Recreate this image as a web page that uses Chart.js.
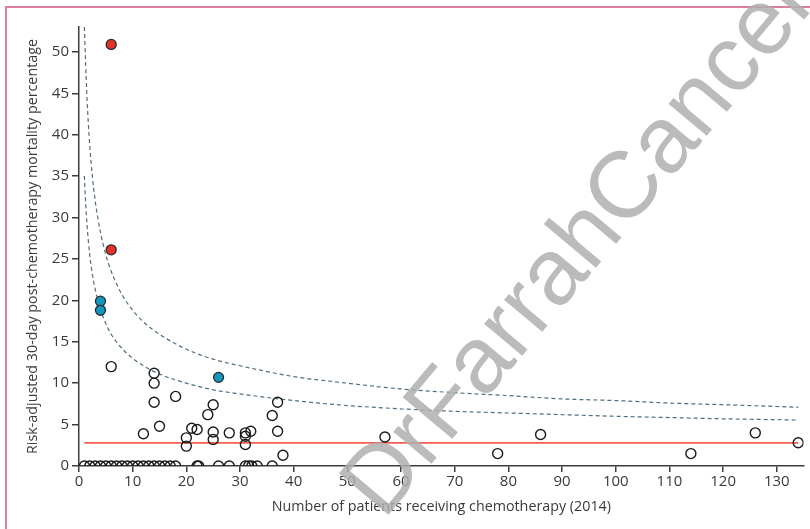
<!DOCTYPE html>
<html>
<head>
<meta charset="utf-8">
<script src="https://cdn.jsdelivr.net/npm/chart.js@4/dist/chart.umd.min.js"></script>
<style>
  html, body { margin: 0; padding: 0; background: #fff; }
  #wrap { width: 810px; height: 529px; }
</style>
</head>
<body>
<div id="wrap"><canvas id="myChart" width="810" height="529"></canvas></div>
<script>
// open circles: hospitals within limits
const openX = [1, 2, 3, 4, 5, 6, 7, 8, 9, 10, 11, 12, 13, 14, 15, 16, 17, 18,
    22, 22.3, 26, 28, 31, 31.6, 32.2, 33.2, 36,
    6, 14, 14, 14, 18, 12, 15, 20, 20, 21, 22, 24, 25, 25, 25, 28,
    31, 31, 31, 32, 36, 37, 37, 38, 57, 78, 86, 114, 126, 134];
const openY = [0, 0, 0, 0, 0, 0, 0, 0, 0, 0, 0, 0, 0, 0, 0, 0, 0, 0,
    0, 0, 0, 0, 0, 0, 0, 0, 0,
    12.0, 11.2, 10.0, 7.7, 8.4, 3.9, 4.8, 3.4, 2.4, 4.55, 4.4, 6.2, 7.4, 4.1, 3.2, 4.0,
    4.0, 3.6, 2.6, 4.2, 6.1, 7.7, 4.2, 1.3, 3.5, 1.5, 3.8, 1.5, 4.0, 2.8];

// above outer limit
const redX = [6, 6];
const redY = [50.9, 26.1];

// between inner and outer limit
const blueX = [4, 4, 26];
const blueY = [19.9, 18.8, 10.7];

// funnel limits
const limitX = [1, 1.2, 1.5, 2, 2.5, 3, 4, 5, 6, 8, 10, 12, 15, 20, 25, 30, 40, 50, 60, 70, 80, 90, 100, 110, 120, 134];
const outerY = [53, 49.2, 44.3, 38.7, 34.9, 32.1, 28.2, 25.5, 23.5, 20.7, 18.8, 17.4, 15.9, 14.1, 12.9, 12.1, 10.8, 10.0, 9.3, 8.85, 8.5, 8.1, 7.9, 7.6, 7.4, 7.1];
const innerY = [35.0, 32.2, 29.1, 25.5, 23.1, 21.4, 18.9, 17.2, 15.9, 14.2, 13.0, 12.1, 11.1, 10.0, 9.2, 8.7, 7.9, 7.3, 6.9, 6.6, 6.4, 6.2, 6.0, 5.85, 5.7, 5.55];

// overall mean
const meanX = [1, 134];
const meanY = [2.78, 2.78];

const xTitle = 'Number of patients receiving chemotherapy (2014)';
const yTitle = 'Risk-adjusted 30-day post-chemotherapy mortality percentage';

const pts = (xs, ys) => xs.map((x, i) => ({ x: x, y: ys[i] }));

const frame = {
    id: 'frame',
    beforeDraw(chart) {
        const c = chart.ctx;
        c.save();
        c.fillStyle = '#fff';
        c.fillRect(0, 0, chart.width, chart.height);
        c.strokeStyle = '#d9819c';
        c.lineWidth = 2;
        c.strokeRect(6, 7, 900, 600);
        c.restore();
    },
    afterDraw(chart) {
        // watermark
        const c = chart.ctx;
        c.save();
        c.translate(582, 244);
        c.rotate(-50 * Math.PI / 180);
        c.font = '94px "Liberation Sans", Arial, sans-serif';
        c.fillStyle = 'rgba(175,175,175,0.85)';
        c.textAlign = 'center';
        c.textBaseline = 'middle';
        c.fillText('DrFarrahCancer', 0, 0);
        c.restore();
    }
};

const myChart = document.getElementById('myChart').getContext('2d');
const axisCol = '#3d3d3d';
const tickFont = { family: '"Open Sans", sans-serif', size: 15 };
const titleFont = { family: '"Open Sans", sans-serif', size: 14.3 };

new Chart(myChart, {
    type: 'scatter',
    data: {
        datasets: [
            {
                data: pts(redX, redY),
                pointRadius: 5, pointBorderWidth: 1.3,
                backgroundColor: '#e8302a', borderColor: '#2a2a2a'
            },
            {
                data: pts(blueX, blueY),
                pointRadius: 5, pointBorderWidth: 1.3,
                backgroundColor: '#1297c0', borderColor: '#2a2a2a'
            },
            {
                data: pts(openX, openY),
                pointRadius: 5, pointBorderWidth: 1.4,
                backgroundColor: 'rgba(0,0,0,0)', borderColor: '#1a1a1a'
            },
            {
                data: pts(meanX, meanY),
                showLine: true, pointRadius: 0,
                borderColor: '#f0604f', borderWidth: 1.8
            },
            {
                data: pts(limitX, innerY),
                showLine: true, pointRadius: 0, cubicInterpolationMode: 'monotone',
                borderColor: '#4f6f7f', borderWidth: 1.2, borderDash: [4, 3]
            },
            {
                data: pts(limitX, outerY),
                showLine: true, pointRadius: 0, cubicInterpolationMode: 'monotone',
                borderColor: '#4f6f7f', borderWidth: 1.2, borderDash: [4, 3]
            }
        ]
    },
    options: {
        responsive: false,
        animation: false,
        events: [],
        layout: { padding: { left: 0, right: 6, top: 27, bottom: 0 } },
        plugins: { legend: { display: false }, tooltip: { enabled: false } },
        scales: {
            x: {
                type: 'linear', min: 0, max: 135,
                afterFit: s => { s.height = 63; },
                border: { color: axisCol, width: 1.5 },
                grid: { drawOnChartArea: false, drawTicks: true, tickLength: 6, color: axisCol, lineWidth: 1.5 },
                ticks: { stepSize: 10, includeBounds: false, color: '#3a3a3a', font: tickFont, padding: 1, maxRotation: 0 },
                title: { display: true, text: xTitle, color: '#3a3a3a', font: titleFont, padding: { top: 0, bottom: 13 } }
            },
            y: {
                type: 'linear', min: 0, max: 53,
                afterFit: s => { s.width = 79; },
                border: { color: axisCol, width: 1.5 },
                grid: { drawOnChartArea: false, drawTicks: true, tickLength: 7, color: axisCol, lineWidth: 1.5 },
                ticks: { stepSize: 5, includeBounds: false, color: '#3a3a3a', font: tickFont, padding: 3 },
                title: { display: true, text: yTitle, color: '#3a3a3a', font: titleFont, padding: { top: 24, bottom: 0 } }
            }
        }
    },
    plugins: [frame]
});
</script>
</body>
</html>
